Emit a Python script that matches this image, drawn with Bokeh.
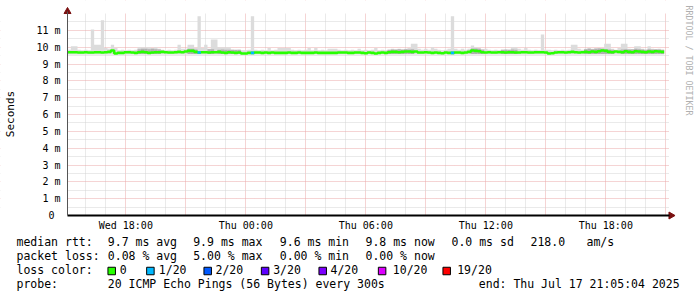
import math
import pandas as pd
from bokeh.plotting import figure
from bokeh.models import Range1d, FixedTicker, DatetimeTickFormatter, LinearAxis, DatetimeAxis
from bokeh.core.properties import value
from bokeh.embed import file_html
from bokeh.resources import INLINE

# ---------------- data ----------------
end_time = "2025-07-17 21:05:04"
span_hours = 30
slot_minutes = 10

median_ms = [
    9.70, 9.70, 9.70, 9.68, 9.68, 9.70, 9.68, 9.68, 9.70, 9.70, 9.68, 9.70,
    9.72, 9.80, 9.62, 9.66, 9.66, 9.70, 9.70, 9.68, 9.66, 9.70, 9.72, 9.70,
    9.66, 9.68, 9.70, 9.70, 9.72, 9.70, 9.68, 9.68, 9.70, 9.72, 9.70, 9.74,
    9.78, 9.78, 9.72, 9.68, 9.70, 9.70, 9.68, 9.70, 9.70, 9.72, 9.68, 9.66,
    9.70, 9.68, 9.66, 9.68, 9.62, 9.62, 9.66, 9.66, 9.68, 9.68, 9.66, 9.68,
    9.66, 9.68, 9.66, 9.66, 9.66, 9.66, 9.68, 9.66, 9.66, 9.68, 9.66, 9.66,
    9.66, 9.66, 9.68, 9.66, 9.66, 9.66, 9.66, 9.66, 9.66, 9.68, 9.68, 9.68,
    9.66, 9.66, 9.68, 9.68, 9.66, 9.64, 9.68, 9.66, 9.62, 9.66, 9.68, 9.66,
    9.70, 9.72, 9.72, 9.70, 9.72, 9.74, 9.74, 9.72, 9.74, 9.68, 9.68, 9.70,
    9.68, 9.66, 9.68, 9.66, 9.64, 9.68, 9.66, 9.66, 9.68, 9.68, 9.66, 9.68,
    9.72, 9.80, 9.78, 9.76, 9.70, 9.68, 9.70, 9.68, 9.68, 9.70, 9.70, 9.68,
    9.70, 9.70, 9.68, 9.68, 9.70, 9.70, 9.68, 9.68, 9.70, 9.70, 9.70, 9.68,
    9.62, 9.64, 9.68, 9.70, 9.70, 9.68, 9.70, 9.72, 9.70, 9.68, 9.70, 9.72,
    9.70, 9.74, 9.72, 9.76, 9.80, 9.78, 9.72, 9.70, 9.74, 9.72, 9.70, 9.76,
    9.72, 9.70, 9.76, 9.74, 9.72, 9.70, 9.74, 9.72, 9.76, 9.74, 9.72,
]

smoke_hi_ms = [
    9.85, 10.06, 10.06, 9.85, 9.82, 9.85, 9.82, 11.05, 10.15, 10.15, 11.60, 9.95,
    9.90, 10.15, 9.95, 9.82, 9.85, 9.82, 9.85, 9.82, 9.85, 10.00, 10.00, 10.00,
    10.00, 9.95, 10.00, 9.90, 9.85, 9.82, 9.85, 9.82, 9.85, 10.15, 9.90, 9.90,
    10.15, 10.15, 9.95, 11.83, 9.95, 10.15, 9.90, 10.45, 10.45, 10.00, 10.00, 10.00,
    10.00, 9.85, 9.82, 9.85, 9.82, 9.82, 9.85, 11.83, 9.85, 9.82, 9.85, 9.82,
    9.95, 9.82, 9.85, 9.95, 9.95, 9.95, 9.95, 9.85, 9.82, 9.85, 9.82, 9.85,
    9.95, 9.82, 9.95, 9.82, 9.85, 9.82, 9.90, 9.90, 9.90, 9.85, 9.82, 9.85,
    9.82, 9.85, 9.82, 9.90, 9.82, 9.85, 9.82, 9.85, 9.95, 9.82, 9.85, 9.82,
    9.85, 9.90, 9.85, 9.90, 9.85, 9.90, 9.95, 10.20, 10.20, 9.90, 9.85, 9.90,
    9.85, 10.00, 9.90, 9.85, 9.82, 9.85, 9.90, 11.83, 9.90, 9.85, 9.90, 9.85,
    9.90, 10.10, 10.00, 9.95, 9.85, 9.90, 9.85, 9.82, 9.85, 9.82, 9.85, 9.82,
    9.85, 10.00, 10.00, 9.90, 9.85, 9.95, 9.85, 9.82, 9.85, 9.82, 10.75, 9.85,
    9.85, 9.82, 9.85, 9.82, 9.85, 9.82, 9.85, 10.15, 10.15, 9.90, 9.85, 9.90,
    9.95, 9.90, 9.90, 9.95, 9.95, 10.20, 10.20, 9.90, 9.85, 9.95, 10.20, 10.20,
    9.90, 9.85, 10.05, 10.05, 9.90, 9.85, 10.05, 9.90, 9.85, 9.90, 9.85,
]
smoke_floor_ms = 9.57

# denser (darker) smoke just above the median in some slots
dark_slots = [21, 22, 23, 24, 25, 26, 27, 36, 37, 38, 42, 43, 45, 46, 47, 48,
              49, 50, 51, 96, 97, 98, 99, 100, 101, 102, 103, 121, 122, 123, 124,
              130, 131, 132, 133, 134, 155, 156, 157, 158, 159, 160, 161, 162, 163,
              166, 167, 168, 169, 170, 171, 172, 173, 174, 175, 176, 177, 178]
dark_hi_ms = [9.88, 9.90, 9.90, 9.88, 9.90, 9.88, 9.86, 9.90, 9.90, 9.86, 9.88, 9.88,
              9.85, 9.86, 9.85, 9.84, 9.85, 9.84, 9.85, 9.84, 9.86, 9.86, 9.88, 9.86,
              9.88, 9.86, 9.88, 9.92, 9.92, 9.90, 9.86, 9.85, 9.86, 9.84, 9.86, 9.85,
              9.88, 9.90, 9.88, 9.92, 9.92, 9.90, 9.88, 9.86, 9.85, 9.86, 9.88, 9.86,
              9.88, 9.90, 9.88, 9.86, 9.85, 9.88, 9.86, 9.88, 9.86, 9.85]

loss_slots = [39, 55, 115]          # slots with 1/20 packet loss
loss_level_color = "#00b8ff"

y_ticks = [0, 1, 2, 3, 4, 5, 6, 7, 8, 9, 10, 11]
y_tick_labels = ["0\u00a0", "1 m", "2 m", "3 m", "4 m", "5 m", "6 m",
                 "7 m", "8 m", "9 m", "10 m", "11 m"]
x_label_times = ["2025-07-16 18:00", "2025-07-17 00:00", "2025-07-17 06:00",
                 "2025-07-17 12:00", "2025-07-17 18:00"]

rtt_title = "median rtt:"
rtt_items = ["9.7 ms avg", "9.9 ms max", "9.6 ms min", "9.8 ms now",
             "0.0 ms sd", "218.0", "am/s"]
loss_title = "packet loss:"
loss_items = ["0.08 % avg", "5.00 % max", "0.00 % min", "0.00 % now"]
color_title = "loss color:"
color_names = ["0", "1/20", "2/20", "3/20", "4/20", "10/20", "19/20"]
color_values = ["#26ff00", "#00b8ff", "#0059ff", "#5e00ff", "#7e00ff",
                "#dd00ff", "#ff0000"]
probe_title = "probe:"
probe_text = "20 ICMP Echo Pings (56 Bytes) every 300s"
end_text = "end: Thu Jul 17 21:05:04 2025"
watermark = "RRDTOOL / TOBI OETIKER"
y_title = "Seconds"

# ---------------- layout constants (pixels) ----------------
W, H = 697, 297
AX_X, AX_Y = 67, 215          # axis positions in the picture
TOP_Y, RIGHT_X = 13, 668.5     # edges of the graph area
PX_PER_H = 20.0
PX_PER_MS = 202.0 / 12.0
MONO = "DejaVu Sans Mono"

t_end = pd.Timestamp(end_time)
t_start = t_end - pd.Timedelta(hours=span_hours)


def ms(ts):
    return ts.value / 1e6


T0 = ms(t_start)


def X(px):
    return T0 + (px - AX_X) / PX_PER_H * 3600e3


def Y(py):
    return (AX_Y - py) / PX_PER_MS


n = min(len(median_ms), len(smoke_hi_ms))
edges = [ms(t_start + pd.Timedelta(minutes=slot_minutes * i)) for i in range(n + 1)]

p = figure(width=W, height=H, output_backend="svg", toolbar_location=None,
           x_range=Range1d(X(0), X(W)), y_range=Range1d(Y(H), Y(0)),
           x_axis_location=None, y_axis_location=None, min_border=0)
p.outline_line_color = None
p.background_fill_color = "white"
p.border_fill_color = "white"

# axes drawn at the graph's origin (they take no room of their own)
yax = LinearAxis(fixed_location=T0, bounds=(0, Y(11)))
xax = DatetimeAxis(fixed_location=0, bounds=(T0, X(669)))
p.add_layout(yax, "left")
p.add_layout(xax, "below")

yax.ticker = FixedTicker(ticks=y_ticks)
yax.major_label_overrides = {v: s for v, s in zip(y_ticks, y_tick_labels)}
xax.ticker = FixedTicker(ticks=[ms(pd.Timestamp(t)) for t in x_label_times])
xax.formatter = DatetimeTickFormatter(hours="%a %H:%M", hourmin="%a %H:%M",
                                      days="%a %H:%M", context=None)
for ax in (xax, yax):
    ax.major_tick_line_color = None
    ax.minor_tick_line_color = None
    ax.major_tick_out = 0
    ax.major_tick_in = 0
    ax.minor_tick_out = 0
    ax.minor_tick_in = 0
    ax.major_label_text_font = MONO
    ax.major_label_text_font_size = "10px"
    ax.major_label_text_color = "#000000"
yax.axis_line_color = "#555555"
yax.axis_line_width = 1
yax.major_label_standoff = 7
xax.axis_line_color = "#000000"
xax.axis_line_width = 2
xax.major_label_standoff = 4

# grids
hour_ticks = [ms(t) for t in pd.date_range("2025-07-16 16:00", "2025-07-17 22:00", freq="1h")]
three_h = [ms(t) for t in pd.date_range("2025-07-16 18:00", "2025-07-17 21:00", freq="3h")]
minor_h = [t for t in hour_ticks if t not in three_h]
p.xgrid.ticker = FixedTicker(ticks=three_h, minor_ticks=minor_h)
p.ygrid.ticker = FixedTicker(ticks=y_ticks[1:], minor_ticks=[v + 0.5 for v in y_ticks])
for g in (p.xgrid, p.ygrid):
    g.grid_line_color = "#eaa8a8"
    g.grid_line_dash = "1 1"
    g.grid_line_width = 1
    g.minor_grid_line_color = "#d4d4d4"
    g.minor_grid_line_dash = "1 1"
    g.minor_grid_line_width = 1

# smoke
p.varea_step(x=edges, y1=[smoke_floor_ms] * (n + 1), y2=smoke_hi_ms[:n] + [smoke_hi_ms[n - 1]],
             step_mode="after", fill_color="#dcdcdc", fill_alpha=1.0)
p.quad(left=[edges[i] for i in dark_slots], right=[edges[i + 1] for i in dark_slots],
       bottom=[smoke_floor_ms + 0.03] * len(dark_slots), top=dark_hi_ms,
       fill_color="#b0b0b0", line_color=None)

# median line (green = no loss)
p.step(x=edges, y=median_ms[:n] + [median_ms[n - 1]], mode="after",
       line_color=color_values[0], line_width=2.6)
# loss-coloured slots
p.segment(x0=[edges[i] for i in loss_slots], x1=[edges[i + 1] for i in loss_slots],
          y0=[median_ms[i] for i in loss_slots], y1=[median_ms[i] for i in loss_slots],
          line_color=loss_level_color, line_width=2.6)

# white margins around the graph area (hide grid outside it)
p.quad(left=[X(0), X(RIGHT_X), X(0), X(0)],
       right=[T0, X(W), X(W), X(W)],
       bottom=[Y(H), Y(H), Y(TOP_Y), Y(H)],
       top=[Y(0), Y(0), Y(0), 0],
       fill_color="white", line_color=None)

# axis arrows
p.scatter(x=[T0], y=[Y(11)], marker="triangle", size=7,
          fill_color="#7a1010", line_color="#7a1010")
p.scatter(x=[X(670.5)], y=[0], marker="triangle", size=7, angle=-math.pi / 2,
          fill_color="#7a1010", line_color="#7a1010")

# y title and watermark
p.text(x=[X(10)], y=[Y(113.5)], text=[y_title], angle=math.pi / 2,
       text_font=value(MONO), text_font_size="11px", text_color="#000000",
       text_align="center", text_baseline="middle")
p.text(x=[X(688)], y=[Y(60)], text=[watermark], angle=-math.pi / 2,
       text_font=value(MONO), text_font_size="8.3px", text_color="#b0b0b0",
       text_align="center", text_baseline="middle")

# ---------------- legend block ----------------
col_x = [107.3, 192.7, 279.3, 365, 451, 530, 586]
box_x = [107.3, 146, 203.3, 260.7, 318.3, 377.7, 442.3]
name_x = [119.3, 158.3, 215, 272.7, 330, 392.3, 456.7]

txt = [rtt_title] + rtt_items + [loss_title] + loss_items + [color_title] + color_names \
    + [probe_title, probe_text, end_text]
tx = [16] + col_x + [16] + col_x[:len(loss_items)] + [16] + name_x + [16, 107.3, 478.3]
ty = [241] * (1 + len(rtt_items)) + [255] * (1 + len(loss_items)) \
    + [269] * (1 + len(color_names)) + [283] * 3
p.text(x=[X(v) for v in tx], y=[Y(v) for v in ty], text=txt,
       text_font=value(MONO), text_font_size="11.5px",
       text_color="#000000", text_align="left", text_baseline="middle")
p.rect(x=[X(b + 3.9) for b in box_x], y=[Y(270.5)] * len(box_x),
       width=7.5, height=7.5, width_units="screen", height_units="screen",
       fill_color=color_values, line_color="#000000", line_width=1)

open("out.html", "w").write(file_html(p, INLINE))
